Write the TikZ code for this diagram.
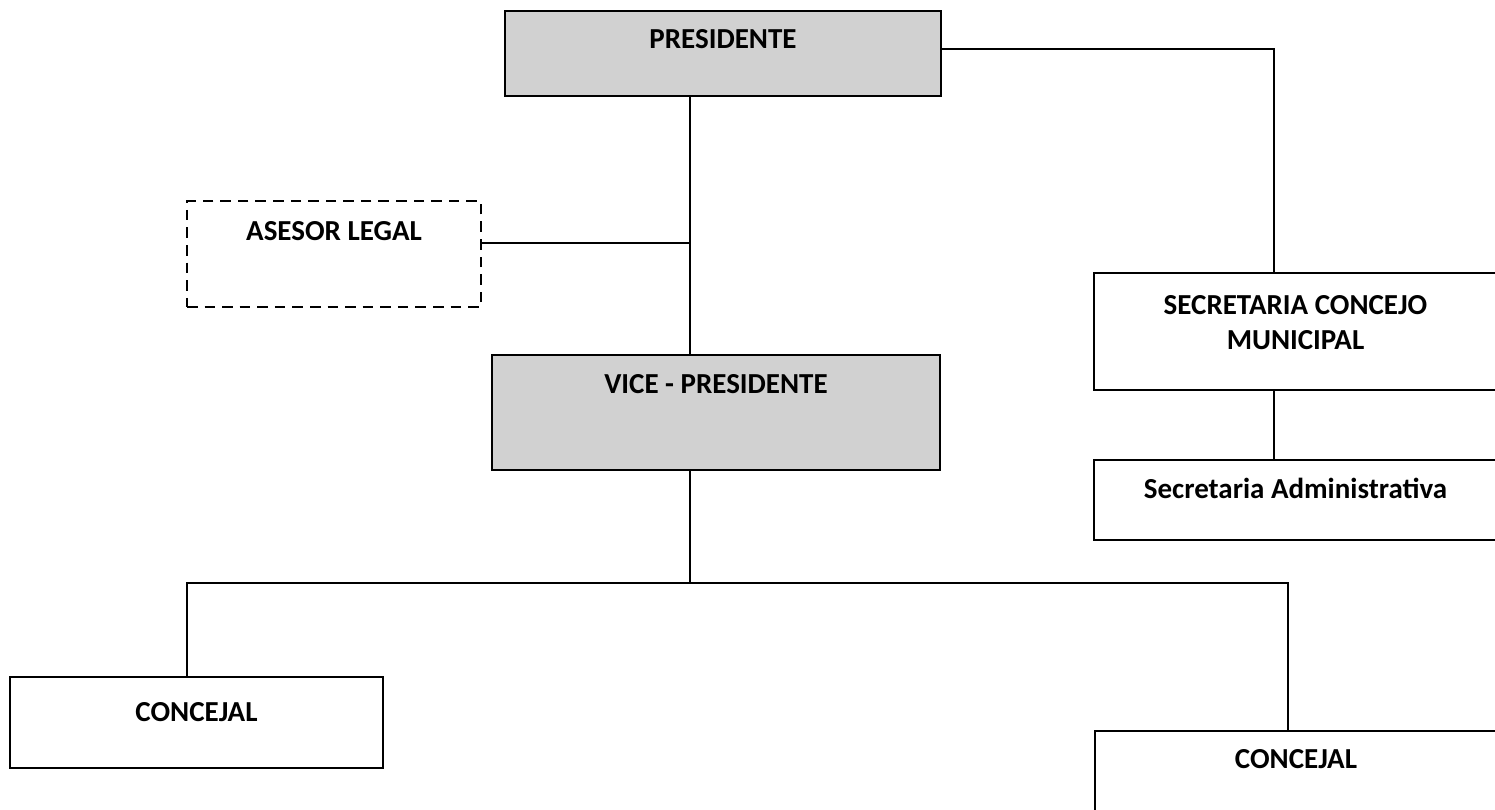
\documentclass[tikz,border=0pt]{standalone}
\usepackage{fontspec}
\setmainfont{Carlito}
\usetikzlibrary{positioning,calc}

\tikzset{
  cargo/.style={draw, line width=1.4pt, rectangle, inner sep=0pt},
  sombra/.style={cargo, fill=black!18},
  asesor/.style={cargo, dashed, dash pattern=on 6pt off 4pt},
  rotulo/.style={font=\bfseries\fontsize{16.5}{20}\selectfont, align=center, inner sep=0pt},
  linea/.style={line width=1.1pt}
}

\begin{document}
\begin{tikzpicture}[x=0.02cm, y=-0.02cm]
      % Marco
      \useasboundingbox (0,0) rectangle (1495,810);
      \clip (0,0) rectangle (1495,810);
      % Cajas
      \node[sombra, minimum width=8.72cm, minimum height=1.7cm] (pres) at (723,53.5) {};
      \node[asesor, minimum width=5.88cm, minimum height=2.12cm] (ases) at (334,254) {};
      \node[sombra, minimum width=8.96cm, minimum height=2.3cm] (vice) at (716,412.5) {};
      \node[cargo, minimum width=8.06cm, minimum height=2.34cm] (secc) at (1295.5,331.5) {};
      \node[cargo, minimum width=8.06cm, minimum height=1.6cm] (sadm) at (1295.5,500) {};
      \node[cargo, minimum width=7.46cm, minimum height=1.82cm] (conc1) at (196.5,722.5) {};
      \node[cargo, minimum width=8.04cm, minimum height=2.2cm] (conc2) at (1296,786) {};
      % Textos
      \node[rotulo] (tpres) at ([yshift=-0.58cm]pres.north) {PRESIDENTE};
      \node[rotulo] (tases) at ([yshift=-0.62cm]ases.north) {ASESOR LEGAL};
      \node[rotulo] (tvice) at ([yshift=-0.6cm]vice.north) {VICE - PRESIDENTE};
      \node[rotulo] (tsecc) at ([yshift=-1.02cm]secc.north) {SECRETARIA CONCEJO\\MUNICIPAL};
      \node[rotulo] (tsadm) at ([yshift=-0.6cm]sadm.north) {Secretaria Administrativa};
      \node[rotulo] (tconc1) at ([yshift=-0.72cm]conc1.north) {CONCEJAL};
      \node[rotulo] (tconc2) at ([yshift=-0.58cm]conc2.north) {CONCEJAL};
      % Ejes
      \coordinate (eje) at (690,0);
      \coordinate (ejesec) at (1274,0);
      \coordinate (barra) at (0,583);
      \coordinate (izq) at (187,0);
      \coordinate (der) at (1288,0);
      % Conectores
      \draw[linea] (pres.south -| eje) -- (vice.north -| eje);
      \draw[linea] ([yshift=0.22cm]ases.east) -- ([yshift=0.22cm]ases.east -| eje);
      \draw[linea] ([yshift=0.09cm]pres.east) -| (secc.north -| ejesec);
      \draw[linea] (secc.south -| ejesec) -- (sadm.north -| ejesec);
      \draw[linea] (vice.south -| eje) -- (barra -| eje);
      \draw[linea] (conc1.north -| izq) -- (barra -| izq) -- (barra -| der) -- (conc2.north -| der);
    \end{tikzpicture}
\end{document}
